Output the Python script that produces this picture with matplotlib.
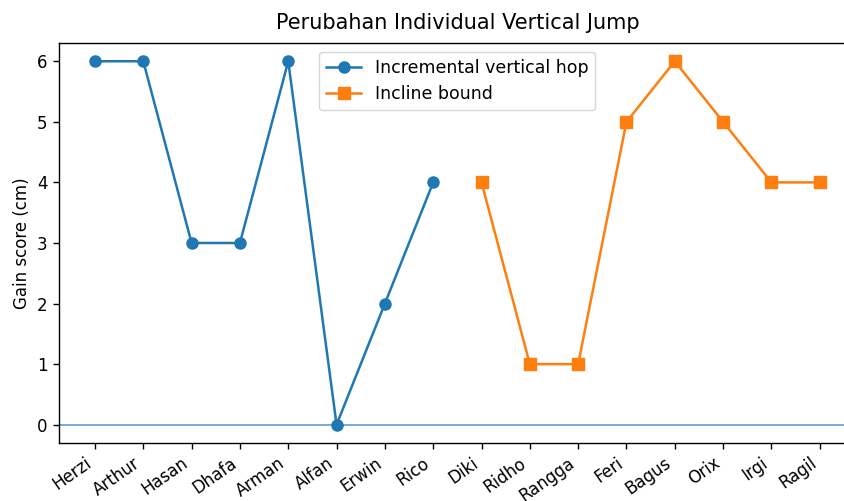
import matplotlib
matplotlib.use("Agg")
import matplotlib.pyplot as plt

names_hop = ["Herzi", "Arthur", "Hasan", "Dhafa", "Arman", "Alfan", "Erwin", "Rico"]
gain_hop = [6, 6, 3, 3, 6, 0, 2, 4]

names_bound = ["Diki", "Ridho", "Rangga", "Feri", "Bagus", "Orix", "Irgi", "Ragil"]
gain_bound = [4, 1, 1, 5, 6, 5, 4, 4]

fig, ax = plt.subplots(figsize=(8.45, 5.01), dpi=100)

x_hop = list(range(len(names_hop)))
x_bound = list(range(len(names_hop), len(names_hop) + len(names_bound)))

ax.plot(x_hop, gain_hop, marker="o", markersize=8, linewidth=1.8,
        label="Incremental vertical hop")
ax.plot(x_bound, gain_bound, marker="s", markersize=8, linewidth=1.8,
        label="Incline bound")
ax.axhline(0, linewidth=1.2, alpha=0.7)

for s in ax.spines.values():
    s.set_linewidth(1.0)
ax.tick_params(width=1.0, length=4.5)

ax.set_xticks(x_hop + x_bound)
ax.set_xticklabels(names_hop + names_bound, rotation=35, ha="right", fontsize=12)
ax.tick_params(axis="y", labelsize=12)
ax.set_ylabel("Gain score (cm)", fontsize=12)
ax.set_title("Perubahan Individual Vertical Jump", fontsize=15, pad=10)
ax.legend(loc="upper center", fontsize=12.5)

# the original image is cropped on the right, so the axes run past the edge
plt.subplots_adjust(left=0.0695, right=1.013, top=0.914, bottom=0.116)
plt.savefig("out.png")
